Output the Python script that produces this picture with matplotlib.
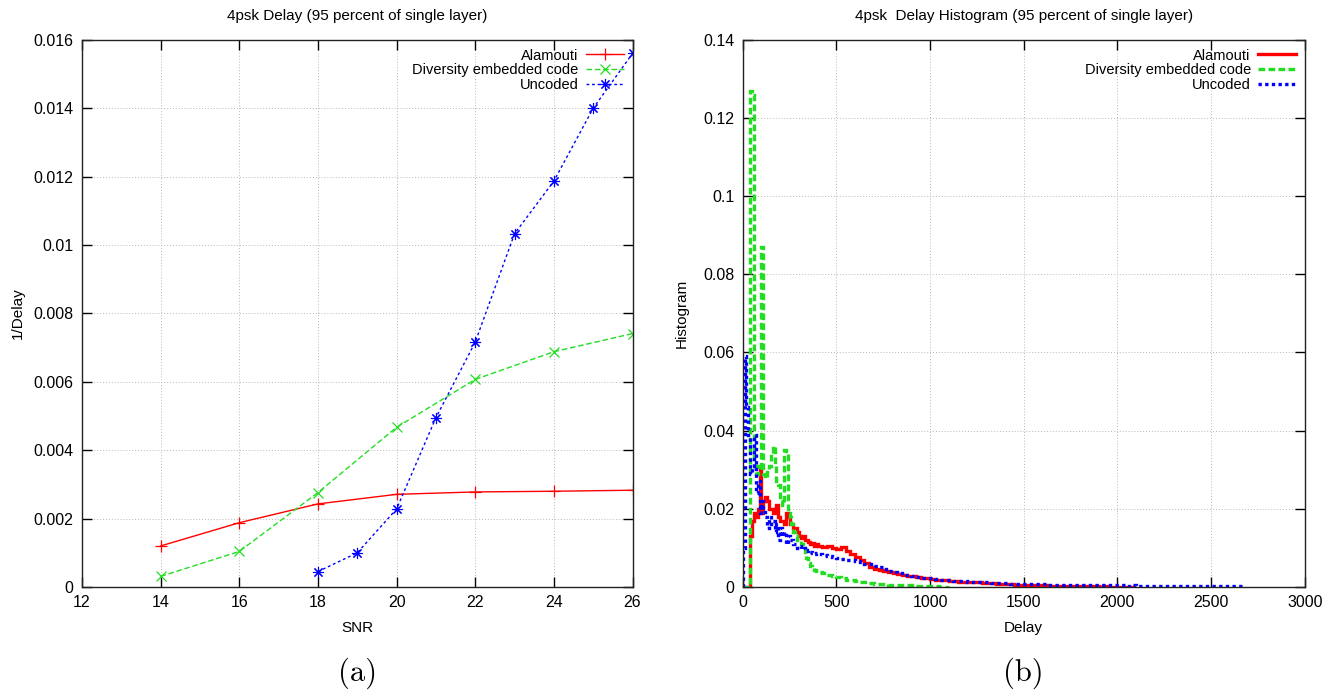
import numpy as np
import matplotlib
matplotlib.use("Agg")
import matplotlib.pyplot as plt
from matplotlib.ticker import FuncFormatter, MultipleLocator

plt.rcParams['font.family'] = ['Liberation Sans Narrow', 'Liberation Sans', 'DejaVu Sans']

# ---- (a) 1/Delay vs SNR ----
snr_alamouti = [14, 16, 18, 20, 22, 24, 26]
inv_delay_alamouti = [0.00120, 0.00188, 0.00243, 0.00271, 0.00278, 0.00280, 0.00283]

snr_diversity = [14, 16, 18, 20, 22, 24, 26]
inv_delay_diversity = [0.00031, 0.00104, 0.00276, 0.00467, 0.00607, 0.00688, 0.00741]

snr_uncoded = [18, 19, 20, 21, 22, 23, 24, 25, 26]
inv_delay_uncoded = [0.00045, 0.00100, 0.00228, 0.00495, 0.00716, 0.01033, 0.01187, 0.01400, 0.01560]

# ---- (b) delay histograms ----
# bins are 10 wide up to a delay of 400, then 25 wide
bin_edges = np.concatenate([np.arange(0, 400, 10), np.arange(400, 2701, 25)])

hist_alamouti = [
    0, 0, 0, 0, 0.013, 0.017, 0.019, 0.018, 0.020, 0.030,
    0.019, 0.022, 0.023, 0.022, 0.020, 0.020, 0.019, 0.020, 0.021, 0.018,
    0.017, 0.017, 0.016, 0.019, 0.018, 0.016, 0.016, 0.015, 0.015, 0.014,
    0.013, 0.0125, 0.013, 0.012, 0.012, 0.0115, 0.011, 0.0112, 0.0105, 0.011,
    # 25-wide bins from 400
    0.0105, 0.0102, 0.0104, 0.0099, 0.0098, 0.0102, 0.0092, 0.0085, 0.0076, 0.0070,
    0.0062, 0.0050, 0.0047, 0.0043, 0.0041, 0.0038, 0.0036, 0.0034, 0.0031, 0.0029,
    0.0028, 0.0026, 0.0024, 0.0022, 0.0021, 0.0019, 0.0018, 0.0017, 0.0016, 0.0015,
    0.0014, 0.0014, 0.0013, 0.0012, 0.0012, 0.0011, 0.0010, 0.0010, 0.0009, 0.0008,
    0.0008, 0.0007, 0.0006, 0.0006, 0.0005, 0.0005, 0.0004, 0.0004, 0.0004, 0.0003,
    0.0003, 0.0003, 0.0003, 0.0002, 0.0003, 0.0002, 0.0002, 0.0002, 0.0002, 0.0002,
    0.0001, 0.0002, 0.0001, 0.0001, 0.0001, 0.0001, 0.0001, 0.0001,
]

hist_diversity = [
    0, 0, 0, 0, 0.127, 0.126, 0.031, 0.029, 0.031, 0.030,
    0.087, 0.029, 0.028, 0.030, 0.031, 0.034, 0.036, 0.031, 0.027, 0.026,
    0.022, 0.021, 0.035, 0.034, 0.019, 0.018, 0.016, 0.014, 0.013, 0.012,
    0.012, 0.011, 0.010, 0.0085, 0.0075, 0.0062, 0.0053, 0.0048, 0.0043, 0.0040,
    # 25-wide bins from 400
    0.0038, 0.0035, 0.0031, 0.0029, 0.0026, 0.0023, 0.0019, 0.0017, 0.0015, 0.0013,
    0.0012, 0.0010, 0.0009, 0.0008, 0.0007, 0.0006, 0.0006, 0.0005, 0.0005, 0.0004,
    0.0004, 0.0003, 0.0003, 0.0003, 0.0002, 0.0002, 0.0001, 0.0001,
]

hist_uncoded = [
    0.010, 0.059, 0.046, 0.038, 0.029, 0.031, 0.039, 0.024, 0.027, 0.019,
    0.022, 0.020, 0.018, 0.015, 0.018, 0.016, 0.017, 0.014, 0.016, 0.012,
    0.015, 0.013, 0.014, 0.011, 0.013, 0.012, 0.012, 0.011, 0.011, 0.010,
    0.0105, 0.0098, 0.0100, 0.0095, 0.0092, 0.0095, 0.0090, 0.0088, 0.0085, 0.0087,
    # 25-wide bins from 400
    0.0085, 0.0082, 0.0080, 0.0078, 0.0075, 0.0072, 0.0070, 0.0068, 0.0066, 0.0063,
    0.0060, 0.0058, 0.0055, 0.0050, 0.0046, 0.0042, 0.0038, 0.0035, 0.0032, 0.0030,
    0.0028, 0.0026, 0.0024, 0.0023, 0.0022, 0.0020, 0.0019, 0.0018, 0.0017, 0.0016,
    0.0015, 0.0015, 0.0014, 0.0013, 0.0013, 0.0012, 0.0012, 0.0011, 0.0011, 0.0010,
    0.0010, 0.0009, 0.0009, 0.0008, 0.0008, 0.0007, 0.0008, 0.0007, 0.0007, 0.0006,
    0.0006, 0.0006, 0.0005, 0.0005, 0.0005, 0.0005, 0.0004, 0.0005, 0.0004, 0.0004,
    0.0004, 0.0004, 0.0004, 0.0004, 0.0004, 0.0004, 0.0003, 0.0004, 0.0003, 0.0003,
    0.0003, 0.0003, 0.0003, 0.0003, 0.0003, 0.0003, 0.0003, 0.0003, 0.0003, 0.0003,
    0.0003, 0.0003, 0.0003, 0.0003, 0.0003, 0.0003, 0.0003, 0.0003, 0.0003, 0.0003,
    0.0003,
]

RED = '#ff0000'
GREEN = '#22dd22'
BLUE = '#0000ff'

fig = plt.figure(figsize=(13.43, 6.98), dpi=100)
ax1 = fig.add_axes([0.061, 0.159, 0.410, 0.784])
ax2 = fig.add_axes([0.553, 0.159, 0.4185, 0.784])


def style_axes(ax):
    ax.grid(True, color='#b8b8b8', linestyle=(0, (1, 2)), linewidth=0.7)
    ax.set_axisbelow(True)
    ax.tick_params(direction='in', top=True, right=True, length=7, width=1,
                   labelsize=11.5, pad=6)
    for s in ax.spines.values():
        s.set_linewidth(1.0)
        s.set_color('#222222')
    ax.yaxis.set_major_formatter(FuncFormatter(lambda v, p: '%g' % round(v, 6)))
    ax.xaxis.set_major_formatter(FuncFormatter(lambda v, p: '%g' % v))


legend_kw = dict(loc='upper right', frameon=False, markerfirst=False, fontsize=10.5,
                 handlelength=2.6, labelspacing=0.05, handletextpad=0.5,
                 borderaxespad=0.2)

# left panel
ax1.plot(snr_alamouti, inv_delay_alamouti, color=RED, lw=1.0, marker='+',
         ms=9, mew=0.9, label='Alamouti')
ax1.plot(snr_diversity, inv_delay_diversity, color=GREEN, lw=1.0, ls=(0, (4, 2)),
         marker='x', ms=7, mew=0.9, label='Diversity embedded code')
ax1.plot(snr_uncoded, inv_delay_uncoded, color=BLUE, lw=1.0, ls=(0, (2, 2)),
         marker=(8, 2, 0), ms=8, mew=0.8, label='Uncoded')
ax1.set_xlim(12, 26)
ax1.set_ylim(0, 0.016)
ax1.xaxis.set_major_locator(MultipleLocator(2))
ax1.yaxis.set_major_locator(MultipleLocator(0.002))
style_axes(ax1)
ax1.set_title('4psk Delay (95 percent of single layer)', fontsize=11, pad=14)
ax1.set_xlabel('SNR', fontsize=11, labelpad=8)
ax1.set_ylabel('1/Delay', fontsize=11, labelpad=6)
ax1.legend(**legend_kw)

# right panel
ax2.stairs(hist_alamouti, bin_edges[:len(hist_alamouti) + 1], color=RED, lw=2.4,
           label='Alamouti')
ax2.stairs(hist_diversity, bin_edges[:len(hist_diversity) + 1], color=GREEN, lw=2.4,
           ls=(0, (2, 1)), label='Diversity embedded code')
ax2.stairs(hist_uncoded, bin_edges[:len(hist_uncoded) + 1], color=BLUE, lw=2.4,
           ls=(0, (1, 1)), label='Uncoded')
ax2.set_xlim(0, 3000)
ax2.set_ylim(0, 0.14)
ax2.xaxis.set_major_locator(MultipleLocator(500))
ax2.yaxis.set_major_locator(MultipleLocator(0.02))
style_axes(ax2)
ax2.set_title('4psk  Delay Histogram (95 percent of single layer)', fontsize=11, pad=14)
ax2.set_xlabel('Delay', fontsize=11, labelpad=8)
ax2.set_ylabel('Histogram', fontsize=11, labelpad=10)
ax2.legend(**legend_kw)

# sub-figure captions
fig.text(0.266, 0.024, '(a)', family='cmr10', fontsize=22, ha='center')
fig.text(0.762, 0.024, '(b)', family='cmr10', fontsize=22, ha='center')

fig.savefig('out.png', dpi=100)
